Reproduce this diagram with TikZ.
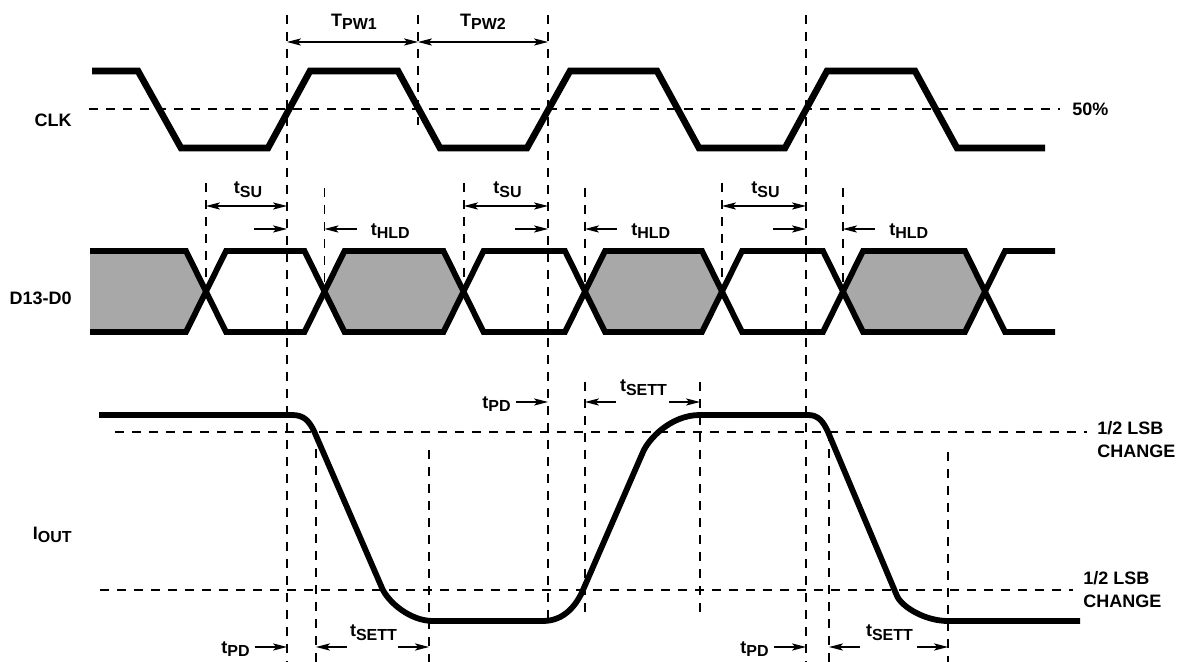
\documentclass[tikz,border=0pt]{standalone}
\usepackage{fontspec}
\setmainfont{Liberation Sans}
\usetikzlibrary{arrows.meta}
\definecolor{eyegray}{gray}{0.66}
\newcommand{\lsub}[1]{\raisebox{-1.8pt}{\fontsize{8}{9}\selectfont #1}}
\tikzset{
  clkwave/.style={line width=3.3pt},
  wave/.style={line width=2.9pt},
  guide/.style={line width=0.65pt, dash pattern=on 4.5pt off 4pt},
  dim/.style={line width=0.6pt},
  lbl/.style={font=\fontsize{9}{11.5}\selectfont\bfseries, inner sep=0pt},
  >={Stealth[length=7pt,width=3.6pt,inset=1.6pt]}
}
\begin{document}
\begin{tikzpicture}[x=0.5pt,y=-0.5pt]
\useasboundingbox (0,0) rectangle (1185,662);
% guide lines
\foreach \x/\ya/\yb in {287/15/662, 418/15/125, 548/15/620, 806/15/662,
    206/183/292, 464/183/292, 722/183/292, 324.5/188/292, 585/188/292, 843/188/292,
    316/432/662, 429/450/662, 585/382/613, 700/382/613, 829/432/662, 948/452/662}
  \draw[guide] (\x,\ya) -- (\x,\yb);
\draw[guide] (89,109) -- (1060,109);
\draw[guide] (115,432) -- (1087,432);
\draw[guide] (100,590) -- (1073,590);
% clock
\draw[clkwave] (92,71) -- (138,71) -- (181,148) -- (268,148) -- (310,71) -- (398,71)
  -- (440,148) -- (527,148) -- (570,71) -- (657,71) -- (699,148) -- (785,148)
  -- (827,71) -- (915,71) -- (957,148) -- (1045,148);
% data
\fill[eyegray] (90,251) -- (186,251) -- (206,291.5) -- (186,332) -- (90,332) -- cycle;
\foreach \a/\b in {324.5/463.5, 585/722, 843/985}
  \fill[eyegray] (\a,291.5) -- ({\a+20},251) -- ({\b-20},251) -- (\b,291.5)
    -- ({\b-20},332) -- ({\a+20},332) -- cycle;
\draw[wave] (90,251) -- (186,251) -- (226,332) -- (304.5,332) -- (344.5,251) -- (443.5,251)
  -- (483.5,332) -- (565,332) -- (605,251) -- (702,251) -- (742,332) -- (823,332)
  -- (863,251) -- (965,251) -- (1005,332) -- (1055,332);
\draw[wave] (90,332) -- (186,332) -- (226,251) -- (304.5,251) -- (344.5,332) -- (443.5,332)
  -- (483.5,251) -- (565,251) -- (605,332) -- (702,332) -- (742,251) -- (823,251)
  -- (863,332) -- (965,332) -- (1005,251) -- (1055,251);
% output current
\draw[wave] (99,415) -- (292,415) .. controls (304,415) and (309,421) .. (314,431)
  -- (382,588) .. controls (388,602) and (410,621) .. (433,621)
  -- (543,621) .. controls (565,621) and (577,604) .. (583,590)
  -- (643,452) .. controls (648,440) and (670,415) .. (700,415)
  -- (808,415) .. controls (818,415) and (823,421) .. (828,432)
  -- (897,596) .. controls (902,607) and (925,621) .. (948,621)
  -- (1080,621);
% signal names
\node[lbl, anchor=east] (clk) at (72,120) {CLK};
\node[lbl, anchor=east] (data) at (72,298) {D13-D0};
\node[lbl, anchor=east] (iout) at (72,535) {I\lsub{OUT}};
\node[lbl, anchor=west] (half) at (1072,109) {50\%};
\node[lbl, anchor=north west, align=left] (lsbhi) at (1097,421) {1/2 LSB\\CHANGE};
\node[lbl, anchor=north west, align=left] (lsblo) at (1083,571) {1/2 LSB\\CHANGE};
% pulse widths
\draw[dim,<->] (287,42) -- (418,42);
\draw[dim,<->] (418,42) -- (548,42);
\node[lbl] (tpw1) at (354,22) {T\lsub{PW1}};
\node[lbl] (tpw2) at (483,22) {T\lsub{PW2}};
% setup and hold
\foreach \a/\b/\h [count=\i] in {206/287/324.5, 464/548/585, 722/806/843} {
  \draw[dim,<->] (\a,206) -- (\b,206);
  \node[lbl] (tsu\i) at ({(\a+\b)/2+1.5},190) {t\lsub{SU}};
  \draw[dim,->] ({\b-33},229) -- (\b,229);
  \draw[dim,->] ({\h+32},229) -- (\h,229);
  \node[lbl, anchor=west] (thld\i) at ({\h+46},231) {t\lsub{HLD}};
}
% propagation and settling
\foreach \p/\s/\e/\y [count=\i] in {287/316/429/647, 548/585/700/402, 806/829/948/647} {
  \draw[dim,->] ({\p-32},\y) -- (\p,\y);
  \node[lbl, anchor=east] (tpd\i) at ({\p-37},{\y+2}) {t\lsub{PD}};
  \draw[dim,->] ({\s+31},\y) -- (\s,\y);
  \draw[dim,->] ({\e-31},\y) -- (\e,\y);
  \node[lbl] (tsett\i) at ({(\s+\e)/2+1},{\y-14}) {t\lsub{SETT}};
}
\end{tikzpicture}
\end{document}
